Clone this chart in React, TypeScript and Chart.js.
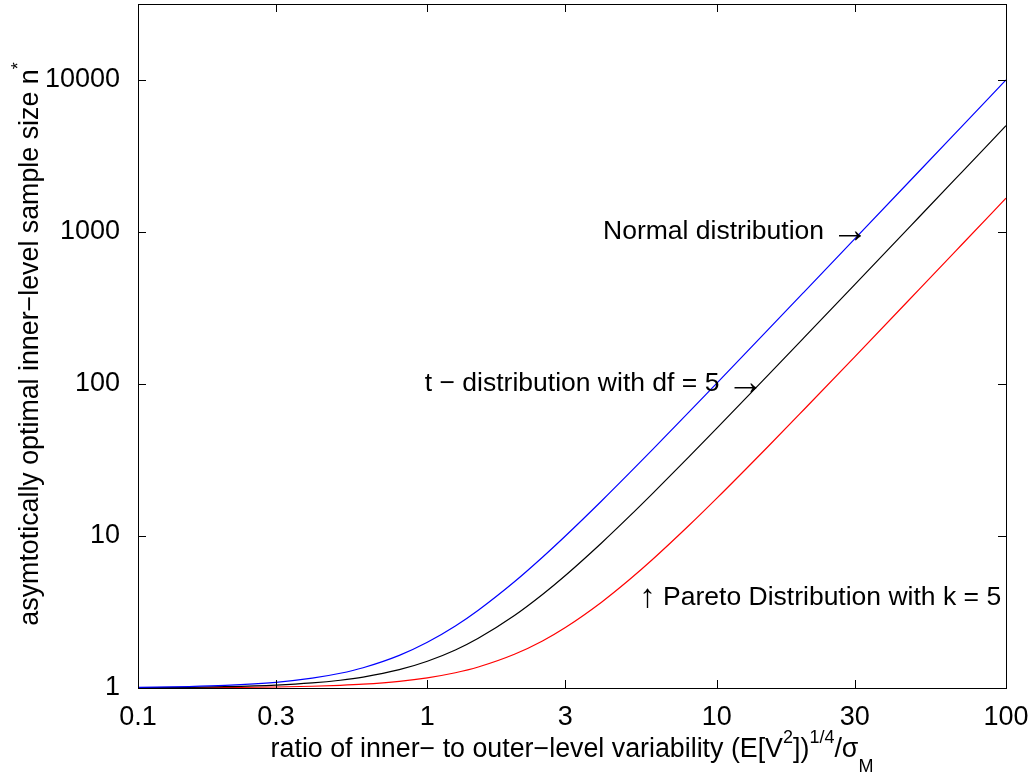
import React, { useEffect, useRef } from "react";
import { Chart, registerables } from "chart.js";

Chart.register(...registerables);

const FAMILY = '"Liberation Sans", Arial, Helvetica, sans-serif';

// ratio of inner- to outer-level variability
const ratio = [0.1, 0.15, 0.2, 0.3, 0.4, 0.5, 0.6, 0.8, 1, 1.25, 1.5, 2, 2.5, 3, 4, 5, 6, 8, 10, 15, 20, 30, 50, 70, 100];
// optimal inner-level sample size
const normalN = [1.01, 1.0225, 1.04, 1.09, 1.16, 1.25, 1.36, 1.64, 2, 2.56, 3.25, 5, 7.25, 10, 17, 26, 37, 65, 101, 226, 401, 901, 2501, 4901, 10001];
const tDistN = [1.005, 1.011, 1.02, 1.045, 1.08, 1.125, 1.18, 1.32, 1.5, 1.78, 2.125, 3, 4.125, 5.5, 9, 13.5, 19, 33, 51, 113.5, 201, 451, 1251, 2451, 5001];
const paretoN = [1.0017, 1.0038, 1.0067, 1.015, 1.027, 1.042, 1.06, 1.107, 1.167, 1.26, 1.375, 1.667, 2.04, 2.5, 3.67, 5.17, 7, 11.67, 17.67, 38.5, 67.7, 151, 417.7, 817.7, 1667.7];

const xTicks = [0.1, 0.3, 1, 3, 10, 30, 100];
const yTicks = [1, 10, 100, 1000, 10000];
const xMin = 0.1;
const xMax = 100;
const yMin = 1;
const yMax = 31623;

const seriesColors = ["#0000ff", "#000000", "#ff0000"];

type Seg = { t: string; k: 0 | 1 | 2 | 3 | 4 };
// k: 0 normal, 1 superscript, 2 subscript, 3 right arrow, 4 up arrow
const annotations: Seg[][] = [
  [{ t: "Normal distribution ", k: 0 }, { t: "\u2192", k: 3 }],
  [{ t: "t \u2212 distribution with df = 5 ", k: 0 }, { t: "\u2192", k: 3 }],
  [{ t: "\u2191", k: 4 }, { t: " Pareto Distribution with k = 5", k: 0 }],
];
const annotationX = [4.05, 0.98, 5.4];
const annotationY = [1000, 100, 3.9];

const xTitle: Seg[] = [
  { t: "ratio of inner\u2212 to outer\u2212level variability (E[V", k: 0 },
  { t: "2", k: 1 },
  { t: "])", k: 0 },
  { t: "1/4", k: 1 },
  { t: "/\u03c3", k: 0 },
  { t: "M", k: 2 },
];
const yTitle: Seg[] = [
  { t: "asymtotically optimal inner\u2212level sample size n", k: 0 },
  { t: "*", k: 1 },
];

const TICK_SIZE = 27;
const NOTE_SIZE = 26.5;
const TITLE_SIZE = 26.8;

function drawRich(
  ctx: CanvasRenderingContext2D,
  segs: Seg[],
  x0: number,
  y: number,
  size: number,
  align: "left" | "center",
  baseline: CanvasTextBaseline
) {
  const small = Math.round(size * 0.69);
  const fontSize = (k: number) => (k === 3 ? 37 : k === 4 ? 33 : k === 1 || k === 2 ? small : size);
  const font = (k: number) => `${fontSize(k)}px ${FAMILY}`;
  let total = 0;
  const widths = segs.map((s) => {
    ctx.font = font(s.k);
    const w = ctx.measureText(s.t).width;
    total += w;
    return w;
  });
  let x = align === "center" ? x0 - total / 2 : x0;
  ctx.textAlign = "left";
  ctx.textBaseline = baseline;
  segs.forEach((s, i) => {
    ctx.font = font(s.k);
    const dy = s.k === 1 ? -14 : s.k === 2 ? 15 : 0;
    ctx.fillText(s.t, x, y + dy);
    x += widths[i];
  });
}

const decorPlugin = {
  id: "decor",
  afterDatasetsDraw(chart: any) {
    const { ctx, chartArea } = chart;
    const { left, right, top, bottom } = chartArea;
    const xs = chart.scales.x;
    const ys = chart.scales.y;
    ctx.save();
    ctx.strokeStyle = "#000";
    ctx.lineWidth = 1;
    ctx.beginPath();
    const tl = 8;
    xTicks.forEach((v) => {
      const px = Math.round(xs.getPixelForValue(v)) + 0.5;
      ctx.moveTo(px, bottom);
      ctx.lineTo(px, bottom - tl);
      ctx.moveTo(px, top);
      ctx.lineTo(px, top + tl);
    });
    yTicks.forEach((v) => {
      const py = Math.round(ys.getPixelForValue(v)) + 0.5;
      ctx.moveTo(left, py);
      ctx.lineTo(left + tl, py);
      ctx.moveTo(right, py);
      ctx.lineTo(right - tl, py);
    });
    ctx.stroke();
    ctx.strokeRect(Math.round(left) + 0.5, Math.round(top) + 0.5, Math.round(right - left), Math.round(bottom - top));

    // annotations
    ctx.fillStyle = "#000";
    annotations.forEach((segs, i) => {
      drawRich(ctx, segs, xs.getPixelForValue(annotationX[i]), ys.getPixelForValue(annotationY[i]), NOTE_SIZE, "left", "middle");
    });

    // x title
    drawRich(ctx, xTitle, (left + right) / 2, 757, TITLE_SIZE, "center", "alphabetic");
    // y title
    ctx.translate(38, (top + bottom) / 2 - 2);
    ctx.rotate(-Math.PI / 2);
    drawRich(ctx, yTitle, 0, 0, TITLE_SIZE, "center", "alphabetic");
    ctx.restore();
  },
};

export default function App() {
  const ref = useRef<HTMLCanvasElement>(null);
  useEffect(() => {
    document.body.style.margin = "0";
    const canvas = ref.current!;
    const names = ["Normal", "t (df=5)", "Pareto (k=5)"];
    const series = [normalN, tDistN, paretoN];
    const chart = new Chart(canvas, {
      type: "scatter",
      data: {
        datasets: series.map((s, i) => ({
          label: names[i],
          data: ratio.map((x, j) => ({ x, y: s[j] })),
          showLine: true,
          borderColor: seriesColors[i],
          backgroundColor: seriesColors[i],
          borderWidth: 1.2,
          pointRadius: 0,
          cubicInterpolationMode: "monotone" as const,
        })),
      },
      options: {
        responsive: false,
        animation: false,
        events: [],
        layout: { padding: { top: 4, right: 26, left: 0, bottom: 0 } },
        plugins: { legend: { display: false }, tooltip: { enabled: false } },
        scales: {
          x: {
            type: "logarithmic",
            min: xMin,
            max: xMax,
            grid: { display: false },
            border: { display: false },
            afterBuildTicks: (scale: any) => {
              scale.ticks = xTicks.map((v) => ({ value: v }));
            },
            afterFit: (scale: any) => {
              scale.height = 87;
              scale.paddingLeft = 0;
              scale.paddingRight = 0;
            },
            ticks: {
              color: "#000",
              font: { family: FAMILY, size: TICK_SIZE },
              padding: 5,
              maxRotation: 0,
              autoSkip: false,
              callback: (v: any) => String(v),
            },
          },
          y: {
            type: "logarithmic",
            min: yMin,
            max: yMax,
            grid: { display: false },
            border: { display: false },
            afterBuildTicks: (scale: any) => {
              scale.ticks = yTicks.map((v) => ({ value: v }));
            },
            afterFit: (scale: any) => {
              scale.width = 138;
              scale.paddingTop = 0;
              scale.paddingBottom = 0;
            },
            ticks: {
              color: "#000",
              font: { family: FAMILY, size: TICK_SIZE },
              padding: 10,
              autoSkip: false,
              callback: (v: any) => String(v),
            },
          },
        },
      },
      plugins: [decorPlugin],
    });
    return () => chart.destroy();
  }, []);
  return <canvas ref={ref} width={1032} height={775} style={{ display: "block" }} />;
}
